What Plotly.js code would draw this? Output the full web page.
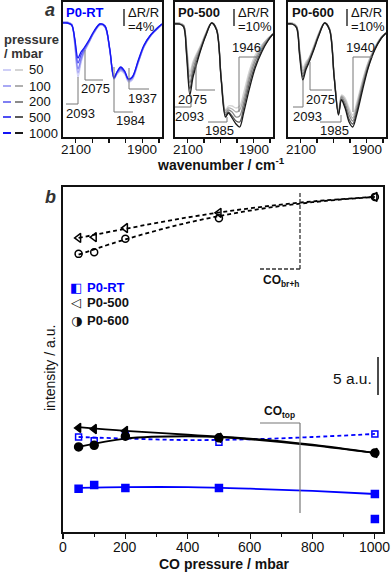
<!DOCTYPE html>
<html><head><meta charset="utf-8">
<script src="https://cdn.plot.ly/plotly-3.0.1.min.js"></script>
<style>html,body{margin:0;padding:0;background:#fff}#chart{width:392px;height:573px}</style>
</head><body><div id="chart"></div>
<script>
// ---------- panel a : spectra (wavenumber / cm-1, intensity in arbitrary units) ----------
const wavenumber = [2140,2125,2112,2103,2093,2084,2075,2060,2045,2027,2012,1998,1985,1976,1965,1953,1942,1930,1912,1895,1875,1855,1841];
const pressureLabels = ['50','100','200','500','1000'];
const wavenumberTicks = [2100,2050,2000,1950,1900,1850];
const wavenumberTickLabels = [2100,1900];
const pressureTicks = [0,200,400,600,800,1000];

const rt50   = [115,115,113,92,60,74,84,94,104,112,110,87,58,63,66,63,55,57,74,90,101,108,112];
const rt100  = [115,115,113,94,64,76,85,95,104,112,110,87,58,63,67,64,56,58,75,90,101,108,112];
const rt200  = [114,114,112,96,68,78,86,95,105,113,110,88,59,64,68,65,57,59,75,91,102,108,113];
const rt500  = [114,114,112,98,74,82,88,96,105,113,111,88,59,65,69,65,58,60,76,91,102,109,113];
const rt1000 = [114,114,112,99,79,85,89,97,106,113,111,89,59,65,70,66,58,60,77,92,102,109,113];

const p500_50   = [114,114,112,92,65,75,82,92,104,114,108,59,27,31,31,29,31,44,67,82,92,99,103];
const p500_100  = [114,114,112,90,60,72,80,91,103,114,108,59,26,29,28,25,27,39,63,79,91,99,103];
const p500_200  = [113,113,111,87,54,67,77,89,102,114,108,58,24,27,25,20,21,34,59,76,89,98,103];
const p500_500  = [113,113,111,85,48,63,73,88,102,114,107,58,22,25,21,16,15,29,54,72,87,97,103];
const p500_1000 = [113,113,110,82,42,59,70,87,101,114,107,57,20,24,19,13,10,24,49,69,85,97,103];

const p600_50   = [114,114,111,89,69,75,79,91,104,114,108,61,25,42,39,29,22,34,57,75,90,100,104];
const p600_100  = [114,114,111,87,66,73,78,90,103,114,108,61,24,41,37,26,19,31,55,74,89,100,104];
const p600_200  = [113,113,110,86,63,71,77,89,102,114,108,60,23,40,34,22,16,28,52,72,88,99,104];
const p600_500  = [113,113,110,84,60,69,75,88,102,114,107,60,23,38,31,18,13,25,50,70,88,99,104];
const p600_1000 = [113,113,109,82,57,67,74,87,101,114,107,59,22,37,29,15,10,22,47,69,87,99,104];

// ---------- panel b : intensity vs CO pressure ----------
const coPressure   = [50,100,200,500,1000];
const rtOpen       = [12.5,12.0,12.7,11.8,12.9];
const rtFilledX    = [50,100,200,500,1000,1000];
const rtFilled     = [5.7,6.2,5.8,5.8,5.0,1.7];
const p500Open     = [38.7,38.8,40.0,42.0,44.1];
const p600Open     = [36.6,36.8,38.6,41.3,44.1];
const p500Filled   = [13.7,13.55,13.3,12.4,10.4];
const p600Filled   = [11.2,11.4,12.6,12.4,10.4];

const fitPressure   = [50,200,400,600,800,1000];
const rtOpenFit     = [12.5,12.3,12.1,12.2,12.5,12.9];
const rtFilledFit   = [5.8,5.9,5.9,5.7,5.4,5.0];
const p500OpenFit   = [38.7,39.9,41.4,42.6,43.5,44.1];
const p600OpenFit   = [36.5,38.5,40.7,42.3,43.4,44.1];
const p500FilledFit = [13.8,13.3,12.8,12.2,11.4,10.4];
const p600FilledFit = [11.2,12.3,12.6,12.3,11.5,10.4];

const W = 392, H = 573;
const PX = x => x / W, PY = y => 1 - y / H;
const FONT = 'Liberation Sans, Arial, sans-serif';
const BLUE = '#0000ff';
const blueShades = ['#cfcff7','#a9a9f4','#7f7ff2','#4d4df3','#1414f5'];
const grayShades = ['#d4d4d4','#b0b0b0','#8a8a8a','#5a5a5a','#1a1a1a'];

const traces = [];
function addSpectra(curves, colors, xa, ya) {
  curves.forEach((c, i) => traces.push({
    x: wavenumber, y: c, xaxis: xa, yaxis: ya, mode: 'lines',
    line: {color: colors[i], width: 1.3, shape: 'spline', smoothing: 0.9},
    showlegend: false, hoverinfo: 'skip'
  }));
}
addSpectra([rt50, rt100, rt200, rt500, rt1000], blueShades, 'x', 'y');
addSpectra([p500_50, p500_100, p500_200, p500_500, p500_1000], grayShades, 'x2', 'y2');
addSpectra([p600_50, p600_100, p600_200, p600_500, p600_1000], grayShades, 'x3', 'y3');

function fit(y, color, dash) {
  traces.push({x: fitPressure, y: y, xaxis: 'x4', yaxis: 'y4', mode: 'lines',
    line: {color: color, width: 1.8, dash: dash, shape: 'spline', smoothing: 1}, showlegend: false, hoverinfo: 'skip'});
}
fit(p500OpenFit, '#000', '4px,3px');
fit(p600OpenFit, '#000', '4px,3px');
fit(rtOpenFit, BLUE, '4px,3px');
fit(rtFilledFit, BLUE, 'solid');
fit(p500FilledFit, '#000', 'solid');
fit(p600FilledFit, '#000', 'solid');

function pts(x, y, symbol, color, size) {
  traces.push({x: x, y: y, xaxis: 'x4', yaxis: 'y4', mode: 'markers',
    marker: {symbol: symbol, color: color, size: size, line: {color: color, width: 1.5}}, showlegend: false, hoverinfo: 'skip'});
}
pts(coPressure, p500Open, 'triangle-left-open', '#000', 8);
pts(coPressure, p600Open, 'circle-open', '#000', 7);
pts(coPressure, rtOpen, 'square-open', BLUE, 6);
pts(rtFilledX, rtFilled, 'square', BLUE, 7);
pts(coPressure, p500Filled, 'triangle-left', '#000', 8);
pts(coPressure, p600Filled, 'circle', '#000', 8);

const specX = (l, r, ya) => ({
  anchor: ya, domain: [PX(l), PX(r)], range: [2138, 1841], showgrid: false, zeroline: false,
  showline: true, mirror: true, linecolor: '#111', linewidth: 1.6,
  tickmode: 'array', tickvals: wavenumberTicks, showticklabels: false,
  ticks: 'outside', ticklen: 4, tickwidth: 1.2, tickcolor: '#111'
});
const specY = (xa) => ({
  anchor: xa, domain: [PY(137), PY(1.5)], range: [0, 135.5], showgrid: false, zeroline: false,
  showline: true, mirror: true, linecolor: '#111', linewidth: 1.6, showticklabels: false, ticks: ''
});

const shapes = [];
const annotations = [];
function line(x0, y0, x1, y1, color, width, dash) {
  shapes.push({type: 'line', xref: 'paper', yref: 'paper', x0: PX(x0), y0: PY(y0), x1: PX(x1), y1: PY(y1),
    line: {color: color || '#777', width: width || 1, dash: dash || 'solid'}});
}
function text(x, y, t, size, opts) {
  annotations.push(Object.assign({xref: 'paper', yref: 'paper', x: PX(x), y: PY(y), text: t, showarrow: false,
    borderpad: 0, xanchor: 'center', yanchor: 'middle', font: {family: FONT, size: size || 13, color: '#111'}}, opts || {}));
}
function label(vx, vy0, vy1, hx0, hx1, hy, t, tx, ty) {
  line(vx, vy0, vx, vy1); line(hx0, hy, hx1, hy); text(tx, ty, t, 13);
}

// tick labels drawn from the tick arrays through the axes
['x', 'x2', 'x3'].forEach(xa => wavenumberTickLabels.forEach(v => annotations.push({
  xref: xa, yref: 'paper', x: v, y: PY(150), text: String(v), showarrow: false, borderpad: 0,
  xanchor: 'center', yanchor: 'middle', font: {family: FONT, size: 13.5, color: '#111'}})));
pressureTicks.forEach(v => annotations.push({
  xref: 'x4', yref: 'paper', x: v, y: PY(547), text: String(v), showarrow: false, borderpad: 0,
  xanchor: 'center', yanchor: 'middle', font: {family: FONT, size: 14, color: '#111'}}));

// panel letters
text(50, 10, '<b><i>a</i></b>', 18, {font: {family: FONT, size: 18, color: '#333'}});
text(50, 197, '<b><i>b</i></b>', 18, {font: {family: FONT, size: 18, color: '#333'}});

// subplot titles and scale bars
text(65, 12, '<b>P0-RT</b>', 13, {xanchor: 'left', font: {family: FONT, size: 13, color: BLUE}});
text(177, 12, '<b>P0-500</b>', 13, {xanchor: 'left'});
text(291, 12, '<b>P0-600</b>', 13, {xanchor: 'left'});
[[124, '=4%'], [234, '=10%'], [347, '=10%']].forEach(([x, s]) => {
  line(x, 9, x, 26, '#111', 1.3);
  text(x + 3, 12, 'ΔR/R', 13, {xanchor: 'left'});
  text(x + 3, 27, s, 13, {xanchor: 'left'});
});

// peak labels
label(78, 77, 104, 66, 78, 104, '2093', 80, 113);
label(85, 50, 80, 85, 103, 80, '2075', 95, 89);
label(114, 67, 112, 114, 133, 112, '1984', 130, 120);
label(129, 68, 89, 129, 149, 89, '1937', 142, 98);

label(191, 95, 107, 175, 191, 107, '2093', 189, 116);
label(196, 62, 90, 196, 215, 90, '2075', 192, 99);
label(227, 117, 122, 208, 227, 122, '1985', 220, 130);
label(239, 57, 112, 239, 258, 57, '1946', 246, 48);

label(303, 80, 107, 293, 303, 107, '2093', 307, 116);
label(310, 62, 90, 310, 332, 90, '2075', 320, 99);
label(341, 115, 122, 320, 341, 122, '1985', 334, 130);
label(353, 57, 112, 353, 373, 57, '1940', 360, 48);

// pressure legend
text(3, 39, '<b>pressure</b>', 13, {xanchor: 'left', font: {family: FONT, size: 13, color: '#333'}});
text(3, 53, '<b>/ mbar</b>', 13, {xanchor: 'left', font: {family: FONT, size: 13, color: '#333'}});
[70, 86, 102, 117, 133].forEach((y, i) => {
  line(3, y, 11, y, blueShades[i], 2);
  line(15, y, 23, y, grayShades[i], 2);
  text(28, y, pressureLabels[i], 13, {xanchor: 'left'});
});

// axis titles
text(221, 164, '<b>wavenumber / cm<sup>-1</sup></b>', 14);
text(224, 564, '<b>CO pressure / mbar</b>', 14);
text(50, 368, 'intensity / a.u.', 14, {textangle: -90});

// panel b legend
text(76, 287, '◧', 13, {font: {family: 'DejaVu Sans', size: 13, color: BLUE}});
text(76, 303, '◁', 13, {font: {family: 'DejaVu Sans', size: 13, color: '#111'}});
text(76, 320, '◑', 13, {font: {family: 'DejaVu Sans', size: 13, color: '#111'}});
text(86, 287, '<b>P0-RT</b>', 13, {xanchor: 'left', font: {family: FONT, size: 13, color: BLUE}});
text(86, 303, '<b>P0-500</b>', 13, {xanchor: 'left'});
text(86, 320, '<b>P0-600</b>', 13, {xanchor: 'left'});

// CO annotations and scale bar
line(300, 193, 300, 269, '#333', 1.3, '4px,2px');
line(260, 269, 300, 269, '#333', 1.3, '4px,2px');
text(281, 281, '<b>CO<sub>br+h</sub></b>', 12);
line(260, 423, 300, 423, '#777', 1.2);
line(300, 423, 300, 513, '#777', 1.2);
text(279, 412, '<b>CO<sub>top</sub></b>', 12);
line(378, 357, 378, 395, '#111', 1.5);
text(373, 378, '5 a.u.', 15.5, {xanchor: 'right'});

const layout = {
  width: W, height: H, margin: {l: 0, r: 0, t: 0, b: 0}, paper_bgcolor: '#fff', plot_bgcolor: 'rgba(0,0,0,0)',
  showlegend: false, font: {family: FONT, size: 13, color: '#111'},
  xaxis: specX(63, 162, 'y'), yaxis: specY('x'),
  xaxis2: specX(175, 273, 'y2'), yaxis2: specY('x2'),
  xaxis3: specX(288, 386, 'y3'), yaxis3: specY('x3'),
  xaxis4: {anchor: 'y4', domain: [PX(63), PX(383)], range: [0, 1026], showgrid: false, zeroline: false,
    showline: true, mirror: true, linecolor: '#111', linewidth: 1.6, showticklabels: false,
    tickmode: 'array', tickvals: pressureTicks, ticks: 'outside', ticklen: 5, tickwidth: 1.2, tickcolor: '#111',
    minor: {tickvals: [100,300,500,700,900], ticks: 'outside', ticklen: 3, tickwidth: 1, tickcolor: '#111'}},
  yaxis4: {anchor: 'x4', domain: [PY(532), PY(187)], range: [0, 45.4], showgrid: false, zeroline: false,
    showline: true, mirror: true, linecolor: '#111', linewidth: 1.6, showticklabels: false, ticks: ''},
  shapes: shapes, annotations: annotations
};
Plotly.newPlot('chart', traces, layout, {staticPlot: true, displayModeBar: false});
</script></body></html>
